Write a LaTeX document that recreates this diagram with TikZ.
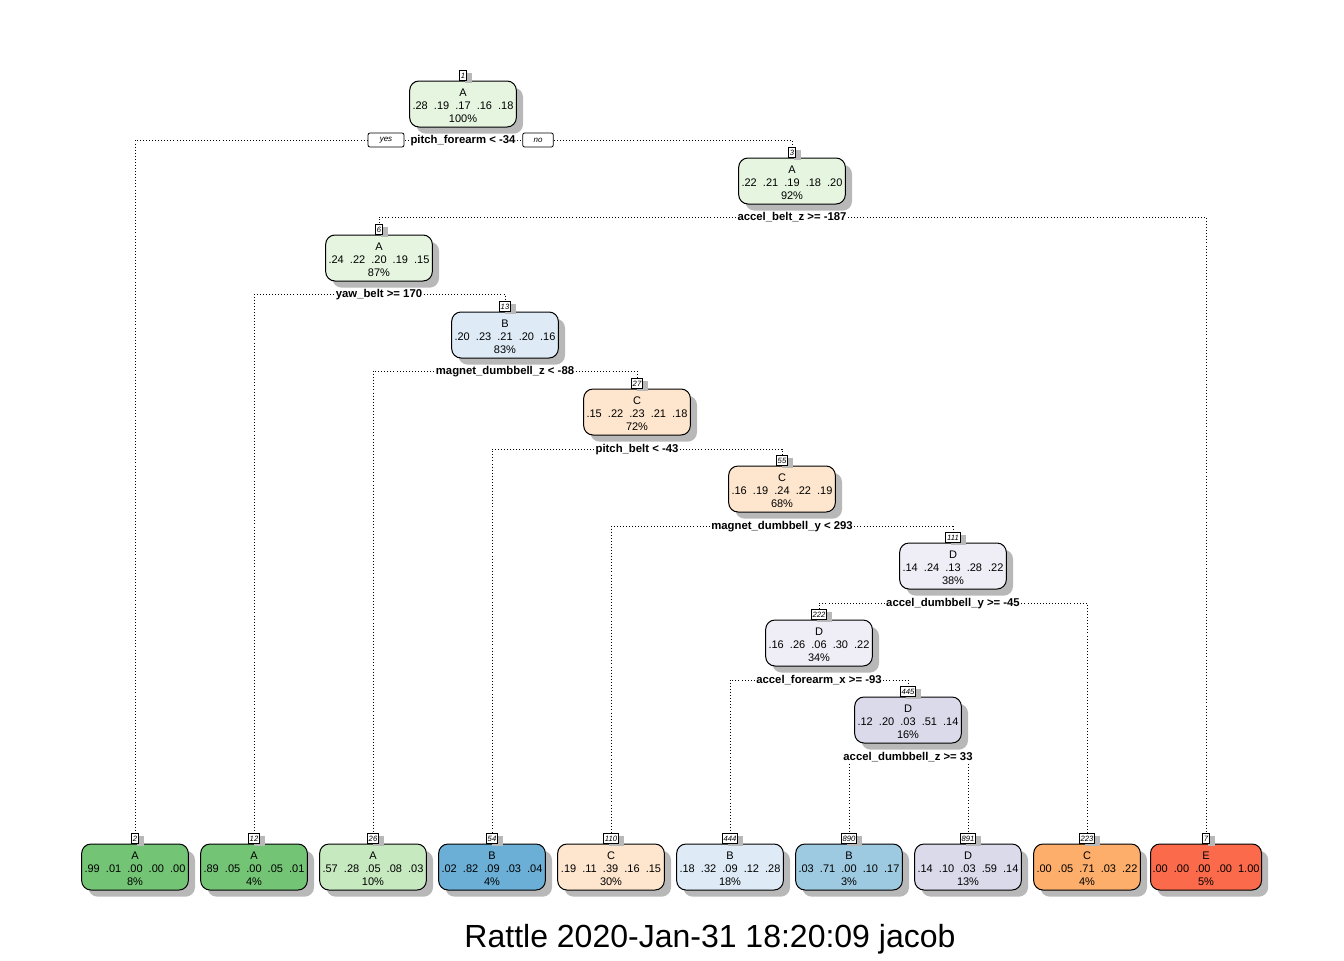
\documentclass[tikz,border=0pt]{standalone}
\usepackage{fontspec}
\setmainfont{Liberation Sans}
\usetikzlibrary{positioning,shadows}
\definecolor{grnlt}{RGB}{229,245,224}
\definecolor{grnmid}{RGB}{199,233,192}
\definecolor{grndk}{RGB}{116,196,118}
\definecolor{blult}{RGB}{222,235,247}
\definecolor{blumid}{RGB}{158,202,225}
\definecolor{bludk}{RGB}{107,174,214}
\definecolor{orglt}{RGB}{254,230,206}
\definecolor{orgmid}{RGB}{253,174,107}
\definecolor{purlt}{RGB}{239,237,245}
\definecolor{purmid}{RGB}{218,218,235}
\definecolor{redE}{RGB}{251,106,74}
\begin{document}
\begin{tikzpicture}[x=0.75pt,y=-0.75pt,
    tnode/.style={draw,line width=0.75pt,rounded corners=7pt,minimum width=80pt,minimum height=34.5pt,
      inner sep=1.5pt,align=center,font=\fontsize{8.25}{9.75}\selectfont,
      drop shadow={shadow xshift=5pt,shadow yshift=-5pt,fill=black!28,opacity=1}},
    numbox/.style={draw,fill=white,line width=0.6pt,inner sep=1pt,minimum height=7pt,
      font=\fontsize{5.75}{6}\selectfont\itshape,
      drop shadow={shadow xshift=4pt,shadow yshift=-2pt,fill=black!28,opacity=1}},
    split/.style={fill=white,inner sep=1pt,text height=6.5pt,text depth=1pt,font=\fontsize{8.5}{10}\selectfont\bfseries},
    yesno/.style={draw,fill=white,line width=0.6pt,rounded corners=1.5pt,minimum height=10.5pt,inner sep=1pt,
      font=\fontsize{6}{7}\selectfont\itshape},
    branch/.style={line width=0.6pt,dash pattern=on 0.7pt off 1.6pt}]
   \useasboundingbox (0,0) rectangle (1344,960);
   % inner nodes
   \node[tnode,fill=grnlt] (n1) at (463,104) {\rule{0pt}{8.9pt}A\\.28~~.19~~.17~~.16~~.18\\100\%};
   \node[tnode,fill=grnlt] (n3) at (792,181) {\rule{0pt}{8.9pt}A\\.22~~.21~~.19~~.18~~.20\\92\%};
   \node[tnode,fill=grnlt] (n6) at (379,258) {\rule{0pt}{8.9pt}A\\.24~~.22~~.20~~.19~~.15\\87\%};
   \node[tnode,fill=blult] (n13) at (505,335) {\rule{0pt}{8.9pt}B\\.20~~.23~~.21~~.20~~.16\\83\%};
   \node[tnode,fill=orglt] (n27) at (637,412) {\rule{0pt}{8.9pt}C\\.15~~.22~~.23~~.21~~.18\\72\%};
   \node[tnode,fill=orglt] (n55) at (782,489) {\rule{0pt}{8.9pt}C\\.16~~.19~~.24~~.22~~.19\\68\%};
   \node[tnode,fill=purlt] (n111) at (953,566) {\rule{0pt}{8.9pt}D\\.14~~.24~~.13~~.28~~.22\\38\%};
   \node[tnode,fill=purlt] (n222) at (819,643) {\rule{0pt}{8.9pt}D\\.16~~.26~~.06~~.30~~.22\\34\%};
   \node[tnode,fill=purmid] (n445) at (908,720) {\rule{0pt}{8.9pt}D\\.12~~.20~~.03~~.51~~.14\\16\%};
   \foreach \id in {1,3,6,13,27,55,111,222,445}
     \node[numbox,above=0pt of n\id] (k\id) {\id};
   % leaves
   \foreach \id/\x/\cls/\pr/\pc/\col in {
       2/135/A/.99~~.01~~.00~~.00~~.00/8/grndk,
       12/254/A/.89~~.05~~.00~~.05~~.01/4/grndk,
       26/373/A/.57~~.28~~.05~~.08~~.03/10/grnmid,
       54/492/B/.02~~.82~~.09~~.03~~.04/4/bludk,
       110/611/C/.19~~.11~~.39~~.16~~.15/30/orglt,
       444/730/B/.18~~.32~~.09~~.12~~.28/18/blult,
       890/849/B/.03~~.71~~.00~~.10~~.17/3/blumid,
       891/968/D/.14~~.10~~.03~~.59~~.14/13/purmid,
       223/1087/C/.00~~.05~~.71~~.03~~.22/4/orgmid,
       7/1206/E/.00~~.00~~.00~~.00~~1.00/5/redE}
   {
     \node[tnode,fill=\col] (l\id) at (\x,867) {\rule{0pt}{8.9pt}\cls\\\pr\\\pc\%};
     \node[numbox,above=0pt of l\id] (k\id) {\id};
   }
   % split labels
   \node[split] (s1) at (463,140) {pitch\_forearm < -34};
   \node[yesno,minimum width=27pt] (yes) at (386,140) {yes};
   \node[yesno,minimum width=23pt] (no) at (538,140) {no};
   \node[split] (s3) at (792,217) {accel\_belt\_z >= -187};
   \node[split] (s6) at (379,294) {yaw\_belt >= 170};
   \node[split] (s13) at (505,371) {magnet\_dumbbell\_z < -88};
   \node[split] (s27) at (637,449) {pitch\_belt < -43};
   \node[split] (s55) at (782,526) {magnet\_dumbbell\_y < 293};
   \node[split] (s111) at (953,603) {accel\_dumbbell\_y >= -45};
   \node[split] (s222) at (819,680) {accel\_forearm\_x >= -93};
   \node[split] (s445) at (908,757) {accel\_dumbbell\_z >= 33};
   % branches
   \draw[branch] (s1) -- (yes);
   \draw[branch] (yes) -| (k2.north);
   \draw[branch] (s1) -- (no);
   \draw[branch] (no) -| (k3.north);
   \draw[branch] (s3) -| (k6.north);
   \draw[branch] (s3) -| (k7.north);
   \draw[branch] (s6) -| (k12.north);
   \draw[branch] (s6) -| (k13.north);
   \draw[branch] (s13) -| (k26.north);
   \draw[branch] (s13) -| (k27.north);
   \draw[branch] (s27) -| (k54.north);
   \draw[branch] (s27) -| (k55.north);
   \draw[branch] (s55) -| (k110.north);
   \draw[branch] (s55) -| (k111.north);
   \draw[branch] (s111) -| (k222.north);
   \draw[branch] (s111) -| (k223.north);
   \draw[branch] (s222) -| (k444.north);
   \draw[branch] (s222) -| (k445.north);
   \draw[branch] (s445.south) ++(-59,0) coordinate (c890) -- (k890.north);
   \draw[branch] (s445.south) ++(60,0) coordinate (c891) -- (k891.north);
   % title
   \node[font=\fontsize{24}{28}\selectfont] (title) at (710,939) {Rattle 2020-Jan-31 18:20:09 jacob};
\end{tikzpicture}
\end{document}
